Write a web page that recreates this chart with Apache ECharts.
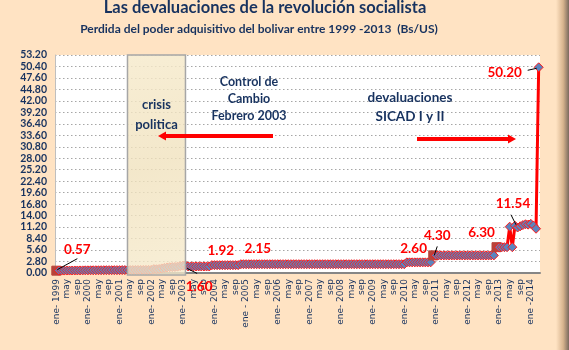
<!DOCTYPE html>
<html>
<head>
<meta charset="utf-8">
<script src="https://cdn.jsdelivr.net/npm/echarts@6/dist/echarts.min.js"></script>
<style>
  html, body { margin: 0; padding: 0; background: #FFE3C3; }
  #chart { width: 569px; height: 350px; }
</style>
</head>
<body>
<div id="chart"></div>
<script>
// etiquetas del eje x (solo ene / may / sep se ven)
const monthNames = ['ene', 'feb', 'mar', 'abr', 'may', 'jun', 'jul', 'ago', 'sep', 'oct', 'nov', 'dic']
const yearLabels = ['ene- 1999', 'ene- 2000', 'ene- 2001', 'ene- 2002', 'ene- 2003', 'ene- 2004',
  'ene - 2005', 'ene- 2006', 'ene- 2007', 'ene- 2008', 'ene- 2009', 'ene- 2010', 'ene- 2011',
  'ene- 2012', 'ene- 2013', 'ene -2014']

// Bs/US mensual
const rate1999 = [0.57, 0.58, 0.58, 0.59, 0.60, 0.60, 0.61, 0.62, 0.62, 0.63, 0.64, 0.65]
const rate2000 = [0.65, 0.66, 0.66, 0.67, 0.67, 0.68, 0.68, 0.69, 0.69, 0.69, 0.70, 0.70]
const rate2001 = [0.70, 0.71, 0.71, 0.72, 0.72, 0.72, 0.73, 0.74, 0.74, 0.75, 0.75, 0.76]
const rate2002 = [0.76, 0.95, 0.92, 0.97, 1.12, 1.25, 1.35, 1.42, 1.45, 1.48, 1.55, 1.68]
const rate2003 = [1.80, 1.85, 1.60, 1.60, 1.60, 1.60, 1.60, 1.60, 1.60, 1.60, 1.60, 1.92]
const rate2004 = [1.92, 1.92, 1.92, 1.92, 1.92, 1.92, 1.92, 1.92, 1.92, 1.92, 2.15, 2.15]
const rate2005 = [2.15, 2.15, 2.15, 2.15, 2.15, 2.15, 2.15, 2.15, 2.15, 2.15, 2.15, 2.15]
const rate2006 = [2.15, 2.15, 2.15, 2.15, 2.15, 2.15, 2.15, 2.15, 2.15, 2.15, 2.15, 2.15]
const rate2007 = [2.15, 2.15, 2.15, 2.15, 2.15, 2.15, 2.15, 2.15, 2.15, 2.15, 2.15, 2.15]
const rate2008 = [2.15, 2.15, 2.15, 2.15, 2.15, 2.15, 2.15, 2.15, 2.15, 2.15, 2.15, 2.15]
const rate2009 = [2.15, 2.15, 2.15, 2.15, 2.15, 2.15, 2.15, 2.15, 2.15, 2.15, 2.15, 2.15]
const rate2010 = [2.15, 2.60, 2.60, 2.60, 2.60, 2.60, 2.60, 2.60, 2.60, 2.60, 2.60, 4.30]
const rate2011 = [4.30, 4.30, 4.30, 4.30, 4.30, 4.30, 4.30, 4.30, 4.30, 4.30, 4.30, 4.30]
const rate2012 = [4.30, 4.30, 4.30, 4.30, 4.30, 4.30, 4.30, 4.30, 4.30, 4.30, 4.30, 6.30]
const rate2013 = [6.30, 6.30, 6.30, 6.30, 11.30, 6.30, 11.54, 11.10, 11.40, 11.70, 11.90, 11.80]
const rate2014 = [12.00, 11.60, 10.80, 50.20]

// etiquetas rojas: indice del mes y texto
const noteIdx = [0, 50, 59, 70, 142, 143, 167, 174, 183]
const noteText = ['0.57', '1.60', '1.92', '2.15', '2.60', '4.30', '6.30', '11.54', '50.20']
// puntos que Excel marca con cuadrado
const stepIdx = [0, 143, 167]
// zona "crisis politica"
const crisisFrom = 27
const crisisTo = 49

const yTicks = { min: 0, max: 53.2, interval: 2.8 }

const rates = [].concat(rate1999, rate2000, rate2001, rate2002, rate2003, rate2004, rate2005,
  rate2006, rate2007, rate2008, rate2009, rate2010, rate2011, rate2012, rate2013, rate2014)
const categories = rates.map((v, i) => {
  let m = i % 12
  return m === 0 ? yearLabels[Math.floor(i / 12)] : monthNames[m]
})

const navy = '#17325F'
const chart = echarts.init(document.getElementById('chart'))

chart.setOption({
  backgroundColor: '#FFE3C3',
  animation: false,
  title: [
    {
      text: 'Las devaluaciones de la revolución socialista',
      left: 260, top: -6, textAlign: 'center',
      textStyle: { fontFamily: 'Lato', fontWeight: 'bold', fontSize: 16.5, color: navy }
    },
    {
      text: 'Perdida del poder adquisitivo del bolivar entre 1999 -2013  (Bs/US)',
      left: 254, top: 18, textAlign: 'center',
      textStyle: { fontFamily: 'Lato', fontWeight: 'bold', fontSize: 12, color: navy }
    }
  ],
  grid: {
    left: 55, right: 29, top: 55, bottom: 77,
    show: true, backgroundColor: '#ffffff', borderWidth: 0
  },
  xAxis: {
    type: 'category',
    data: categories,
    boundaryGap: true,
    axisLine: { lineStyle: { color: '#868686', width: 2 } },
    axisTick: { show: false },
    axisLabel: {
      interval: 3, rotate: 90, margin: 6,
      fontFamily: 'DejaVu Sans', fontSize: 9, color: navy
    }
  },
  yAxis: {
    type: 'value',
    min: yTicks.min, max: yTicks.max, interval: yTicks.interval,
    axisLine: { show: true, lineStyle: { color: '#BFBFBF' } },
    axisTick: { show: false },
    axisLabel: {
      margin: 8, fontFamily: 'Lato', fontWeight: 'bold', fontSize: 10.5, color: navy,
      formatter: v => v.toFixed(2)
    },
    splitLine: { lineStyle: { color: '#A6A6A6', type: [1.5, 2.5] } }
  },
  series: [{
    type: 'line',
    data: rates.map((v, i) => stepIdx.includes(i)
      ? { value: v, symbol: 'rect', symbolSize: 9, itemStyle: { color: '#B8433A', borderColor: '#B8433A' } }
      : v),
    showAllSymbol: true,
    symbol: 'diamond',
    symbolSize: 9,
    lineStyle: { color: '#FF0000', width: 3 },
    itemStyle: { color: '#5B84BE', borderColor: '#FF1A1A', borderWidth: 1 },
    z: 3
  }]
})

// anotaciones, posicionadas con los ejes
const px = (i, v) => chart.convertToPixel({ gridIndex: 0 }, [i, v])
const noteOffset = [[21, -21], [11, 20], [9, -14], [17, -16], [-17, -14], [4, -20], [-15, -15], [-2, -22], [-34, 5]]
const leaderFrom = { 0: [[1, -1], [21, -12]], 1: [[-1, 2], [9, 7]], 5: [[1, 0], [4, -9]], 7: [[-4, -11], [1, -1]], 8: [[-11, 3], [-2, 1]] }

const graphics = []
const plotTop = px(0, yTicks.max)[1]
const plotBottom = px(0, 0)[1]
const boxL = px(crisisFrom, 0)[0]
const boxR = px(crisisTo, 0)[0]
graphics.push({
  type: 'rect', z: 10,
  shape: { x: boxL, y: plotTop, width: boxR - boxL, height: plotBottom - plotTop + 2 },
  style: {
    fill: new echarts.graphic.LinearGradient(0, 0, 1, 1, [
      { offset: 0, color: 'rgba(246,234,203,0.82)' },
      { offset: 0.5, color: 'rgba(240,225,188,0.78)' },
      { offset: 1, color: 'rgba(246,234,203,0.78)' }
    ]),
    stroke: '#A6A6A6', lineWidth: 1.5
  }
})
graphics.push({
  type: 'text', z: 20,
  style: { x: (boxL + boxR) / 2, y: 115, text: 'crisis\npolitica', align: 'center', verticalAlign: 'middle',
    fontFamily: 'Lato', fontWeight: 'bold', fontSize: 13, lineHeight: 20, fill: navy }
})
graphics.push({
  type: 'text', z: 20,
  style: { x: 249, y: 99, text: 'Control de\nCambio\nFebrero 2003', align: 'center', verticalAlign: 'middle',
    fontFamily: 'Lato', fontWeight: 'bold', fontSize: 12.5, lineHeight: 17, fill: navy }
})
graphics.push({
  type: 'text', z: 20,
  style: { x: 410, y: 98, text: 'devaluaciones', align: 'center', verticalAlign: 'middle',
    fontFamily: 'Lato', fontWeight: 'bold', fontSize: 13.5, fill: navy }
})
graphics.push({
  type: 'text', z: 20,
  style: { x: 410, y: 117, text: 'SICAD I y II', align: 'center', verticalAlign: 'middle',
    fontFamily: 'Lato', fontWeight: 'bold', fontSize: 13.5, fill: navy }
})
// flechas
graphics.push({ type: 'line', z: 20, shape: { x1: 273, y1: 136, x2: 164, y2: 136 }, style: { stroke: '#FF0000', lineWidth: 4 } })
graphics.push({ type: 'polygon', z: 20, shape: { points: [[158, 136], [166, 131.5], [166, 140.5]] }, style: { fill: '#FF0000' } })
graphics.push({ type: 'line', z: 20, shape: { x1: 417, y1: 139, x2: 510, y2: 139 }, style: { stroke: '#FF0000', lineWidth: 4 } })
graphics.push({ type: 'polygon', z: 20, shape: { points: [[516, 139], [508, 134.5], [508, 143.5]] }, style: { fill: '#FF0000' } })

noteIdx.forEach((idx, k) => {
  let p = px(idx, rates[idx])
  if (leaderFrom[k]) {
    let a = leaderFrom[k][0], b = leaderFrom[k][1]
    graphics.push({ type: 'line', z: 15,
      shape: { x1: p[0] + a[0], y1: p[1] + a[1], x2: p[0] + b[0], y2: p[1] + b[1] },
      style: { stroke: '#000000', lineWidth: 1 } })
  }
  graphics.push({
    type: 'text', z: k === 1 ? 1 : 20,
    style: { x: p[0] + noteOffset[k][0], y: p[1] + noteOffset[k][1], text: noteText[k],
      align: 'center', verticalAlign: 'middle',
      fontFamily: 'Lato', fontWeight: 'bold', fontSize: 13.5, fill: '#FF0000' }
  })
})

// borde derecho sombreado
graphics.push({
  type: 'rect', z: 30,
  shape: { x: 556, y: 0, width: 13, height: 350 },
  style: { fill: new echarts.graphic.LinearGradient(0, 0, 1, 0, [
    { offset: 0, color: '#FFE3C3' },
    { offset: 0.55, color: '#D7B48E' },
    { offset: 1, color: '#7A6A5E' }
  ]) }
})

chart.setOption({ graphic: graphics })
</script>
</body>
</html>
